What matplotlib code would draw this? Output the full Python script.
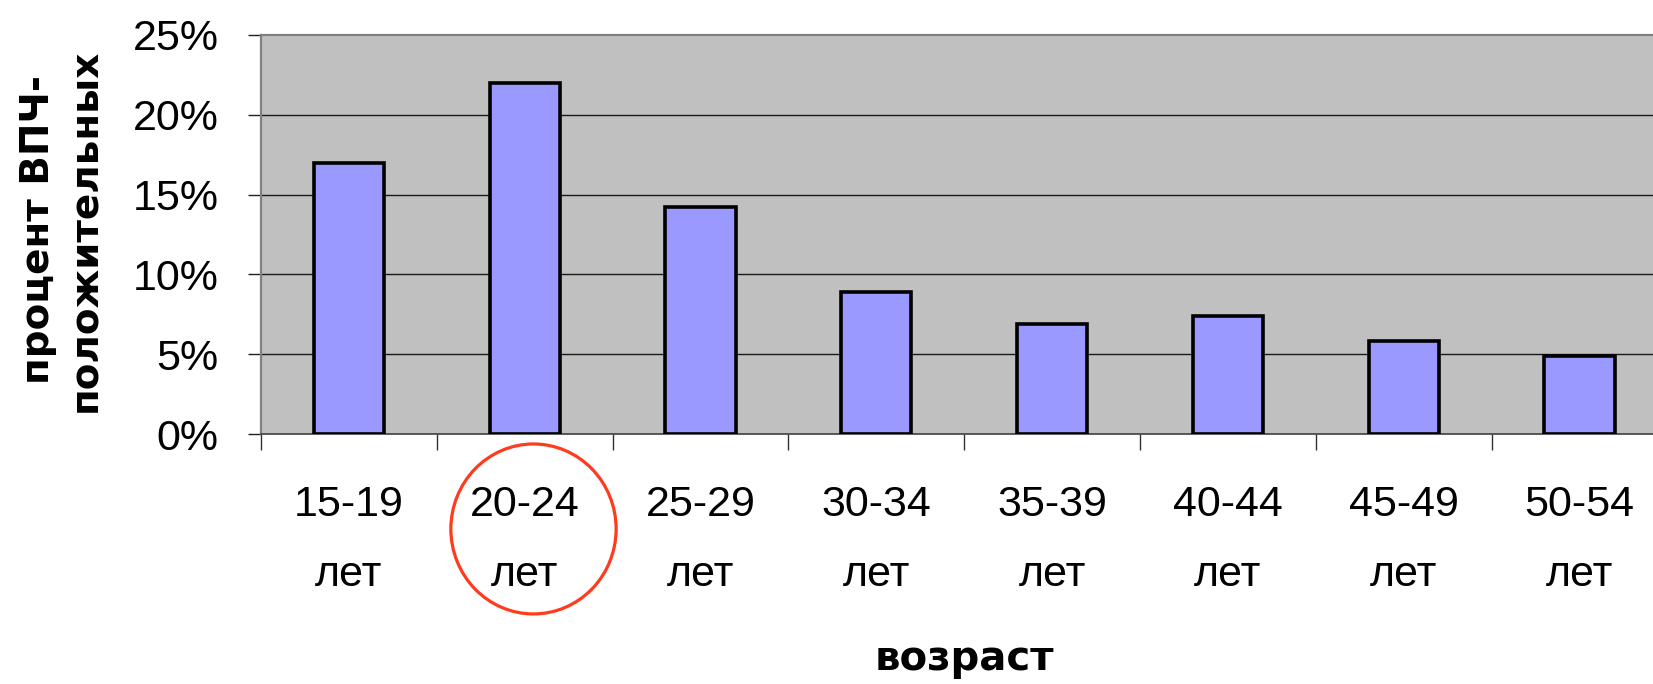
import matplotlib.pyplot as plt
from matplotlib.patches import Ellipse
from matplotlib.ticker import FixedLocator, PercentFormatter

# Share of HPV-positive results by age group
age_groups = ["15-19", "20-24", "25-29", "30-34", "35-39", "40-44", "45-49", "50-54"]
hpv_positive = [17.0, 22.0, 14.2, 8.9, 6.9, 7.4, 5.85, 4.9]
y_ticks = [0, 5, 10, 15, 20, 25]
highlight = 1  # the 20-24 group gets a red circle

plt.rcParams["font.family"] = ["Liberation Sans", "DejaVu Sans"]

W, H = 1653, 684
fig = plt.figure(figsize=(W / 100, H / 100), dpi=100)
fig.patch.set_facecolor("white")

# plot area runs a little past the right edge of the canvas
left, bottom, top, step = 261, 434, 35, 175.8
ax = fig.add_axes([left / W, (H - bottom) / H,
                   len(age_groups) * step / W, (bottom - top) / H])
ax.set_facecolor("#C0C0C0")

x = list(range(len(age_groups)))
ax.bar(x, hpv_positive, width=0.4, color="#9999FF", edgecolor="black",
       linewidth=2.6, zorder=3)

ax.set_xlim(-0.5, len(age_groups) - 0.5)
ax.set_ylim(0, 25)

# horizontal gridlines
for v in y_ticks[1:-1]:
    ax.axhline(v, color="#1a1a1a", linewidth=1.0, zorder=1)

for side in ["top", "left"]:
    ax.spines[side].set_color("#808080")
    ax.spines[side].set_linewidth(1.6)
ax.spines["bottom"].set_color("#404040")
ax.spines["bottom"].set_linewidth(1.2)
ax.spines["right"].set_visible(False)

ax.set_yticks(y_ticks)
ax.yaxis.set_major_formatter(PercentFormatter(decimals=0))
ax.tick_params(axis="y", direction="out", length=9.5, width=1.0, color="#202020",
               pad=21, labelsize=31)

ax.set_xticks(x)
ax.set_xticklabels([f"{g}\nлет" for g in age_groups], linespacing=1.95)
ax.tick_params(axis="x", which="major", length=0, pad=37, labelsize=31)
ax.xaxis.set_minor_locator(FixedLocator([i - 0.5 for i in range(len(age_groups) + 1)]))
ax.tick_params(axis="x", which="minor", direction="out", length=11.5, width=1.0,
               color="#303030")

# red circle around the peak age group label
ax.add_patch(Ellipse((highlight + 0.05, -0.238), width=0.94, height=0.426,
                     transform=ax.get_xaxis_transform(), fill=False,
                     edgecolor="#FF3B1E", linewidth=2.3, clip_on=False))

fig.text(62 / W, (H - 230) / H, "процент ВПЧ-\nположительных", rotation=90,
         ha="center", va="center", ma="center", fontsize=28, fontweight="bold",
         family="DejaVu Sans", linespacing=1.3)
fig.text(964 / W, (H - 670) / H, "возраст", ha="center", va="baseline",
         fontsize=29, fontweight="bold", family="DejaVu Sans")

fig.savefig("out.png", dpi=100)
